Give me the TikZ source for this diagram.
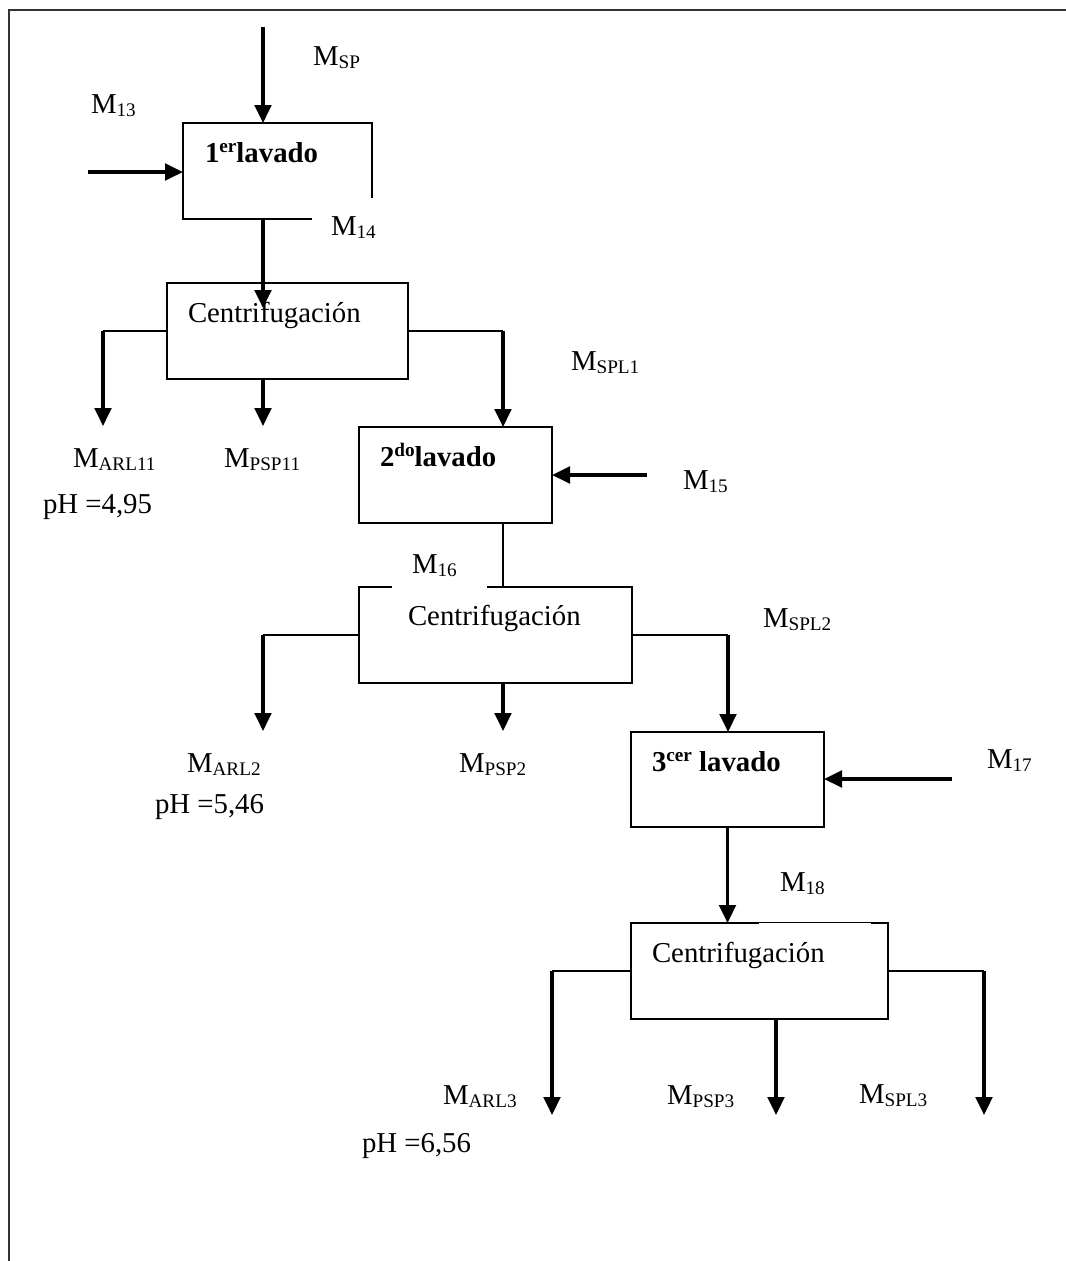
\documentclass[tikz,border=0pt]{standalone}
\usepackage{fontspec}
\setmainfont{Liberation Serif}
\usetikzlibrary{arrows.meta,calc}

% lowered and raised small text, as in the process labels
\newcommand\sbx[1]{\raisebox{-2.4pt}{\fontsize{14.4}{14.4}\selectfont #1}}
\newcommand\spx[1]{\raisebox{7.5pt}{\fontsize{14.4}{14.4}\selectfont #1}}

\tikzset{
  unitbox/.style={rectangle, inner sep=0pt, outer sep=0pt},
  frame/.style={line width=1.8pt, line cap=rect},
  link/.style={line width=1.8pt},
  flow/.style={line width=2.6pt, -{Triangle[length=13.5pt,width=12.5pt]}},
  lbl/.style={anchor=base west, inner sep=0pt, outer sep=0pt,
              font=\fontsize{21.6}{26}\selectfont},
  title/.style={lbl, font=\fontsize{21.6}{26}\selectfont\bfseries},
}

\begin{document}
\begin{tikzpicture}[x=0.75pt,y=-0.75pt]
\useasboundingbox (0,0) rectangle (1066,1261);

% page frame (top and left edges)
\coordinate (fbl) at (9,1261);
\coordinate (ftl) at (9,10);
\coordinate (ftr) at (1066,10);
\draw[black!80, line width=1.6pt] (fbl) -- (ftl) -- (ftr);

% ---------- process blocks ----------
\node[unitbox, minimum width=141.75pt, minimum height=72pt]  (L1) at (277.5,171) {};
\node[unitbox, draw, line width=1.8pt, minimum width=180.75pt, minimum height=72pt] (C1) at (287.5,331) {};
\node[unitbox, draw, line width=1.8pt, minimum width=144.75pt, minimum height=72pt] (L2) at (455.5,475) {};
\node[unitbox, minimum width=204.75pt, minimum height=72pt]  (C2) at (495.5,635) {};
\node[unitbox, draw, line width=1.8pt, minimum width=144.75pt, minimum height=71.25pt] (L3) at (727.5,779.5) {};
\node[unitbox, minimum width=192.75pt, minimum height=72pt]  (C3) at (759.5,971) {};

% open outlines
\draw[frame] ($(L1.south east)+(0,-22)$) -- (L1.north east) -- (L1.north west)
             -- (L1.south west) -- ($(L1.south west)+(128,0)$);
\draw[frame] ($(C2.north west)+(32,0)$) -- (C2.north west) -- (C2.south west)
             -- (C2.south east) -- (C2.north east) -- ($(C2.north west)+(129,0)$);
\draw[frame] ($(C3.north west)+(127,0)$) -- (C3.north west) -- (C3.south west)
             -- (C3.south east) -- (C3.north east) -- ($(C3.north west)+(241,0)$);
\draw[line width=0.6pt] ($(C3.north west)+(127,-1)$) -- ($(C3.north west)+(241,-1)$);

% block captions
\node[title] (t1)  at (205,162) {1\spx{er}lavado};
\node[lbl]   (tc1) at (188,322) {Centrifugación};
\node[title] (t2)  at (380,466) {2\spx{do}lavado};
\node[lbl]   (tc2) at (408,625) {Centrifugación};
\node[title] (t3)  at (652,771) {3\spx{cer} lavado};
\node[lbl]   (tc3) at (652,962) {Centrifugación};

% ---------- streams ----------
\coordinate (sp)  at (263,27);
\coordinate (m13) at (88,172);
\coordinate (c1in) at (263,308);
\draw[flow] (sp) -- (sp |- L1.north);
\draw[flow] (m13) -- (m13 -| L1.west);
\draw[flow] (L1.south -| c1in) -- (c1in);

% first centrifuge outlets
\coordinate (a11) at (103,426);
\coordinate (p11) at (263,426);
\coordinate (k1)  at (503,331);
\draw[link] (C1.west) -- (C1.west -| a11);
\draw[flow] (C1.west -| a11) -- (a11);
\draw[flow] (C1.south -| p11) -- (p11);
\draw[link] (C1.east) -- (k1);
\draw[flow] (k1) -- (k1 |- L2.north);

% second washing
\coordinate (m15) at (647,475);
\draw[flow] (m15) -- (m15 -| L2.east);
\draw[link] (L2.south -| k1) -- (C2.north -| k1);

% second centrifuge outlets
\coordinate (a2) at (263,731);
\coordinate (p2) at (503,731);
\coordinate (k2) at (728,635);
\draw[link] (C2.west) -- (C2.west -| a2);
\draw[flow] (C2.west -| a2) -- (a2);
\draw[flow] (C2.south -| p2) -- (p2);
\draw[link] (C2.east) -- (k2);
\draw[flow] (k2) -- (k2 |- L3.north);

% third washing
\coordinate (m17) at (952,779);
\draw[flow] (m17) -- (m17 -| L3.east);
\draw[flow] (L3.south) -- (C3.north -| L3.south);

% third centrifuge outlets
\coordinate (a3) at (552,1115);
\coordinate (p3) at (776,1115);
\coordinate (s3) at (984,1115);
\draw[link] (C3.west) -- (C3.west -| a3);
\draw[flow] (C3.west -| a3) -- (a3);
\draw[flow] (C3.south -| p3) -- (p3);
\draw[link] (C3.east) -- (C3.east -| s3);
\draw[flow] (C3.east -| s3) -- (s3);

% ---------- stream labels ----------
\node[lbl] (lsp)    at (313,65)   {M\sbx{SP}};
\node[lbl] (l13)    at (91,113)   {M\sbx{13}};
\node[lbl] (l14)    at (331,235)  {M\sbx{14}};
\node[lbl] (lspl1)  at (571,370)  {M\sbx{SPL1}};
\node[lbl] (larl11) at (73,467)   {M\sbx{ARL11}};
\node[lbl] (lpsp11) at (224,467)  {M\sbx{PSP11}};
\node[lbl] (ph1)    at (43,513)   {pH =4,95};
\node[lbl] (l15)    at (683,489)  {M\sbx{15}};
\node[lbl] (l16)    at (412,573)  {M\sbx{16}};
\node[lbl] (lspl2)  at (763,627)  {M\sbx{SPL2}};
\node[lbl] (larl2)  at (187,772)  {M\sbx{ARL2}};
\node[lbl] (lpsp2)  at (459,772)  {M\sbx{PSP2}};
\node[lbl] (ph2)    at (155,813)  {pH =5,46};
\node[lbl] (l17)    at (987,768)  {M\sbx{17}};
\node[lbl] (l18)    at (780,891)  {M\sbx{18}};
\node[lbl] (larl3)  at (443,1104) {M\sbx{ARL3}};
\node[lbl] (lpsp3)  at (667,1104) {M\sbx{PSP3}};
\node[lbl] (lspl3)  at (859,1103) {M\sbx{SPL3}};
\node[lbl] (ph3)    at (362,1152) {pH =6,56};
\end{tikzpicture}
\end{document}
